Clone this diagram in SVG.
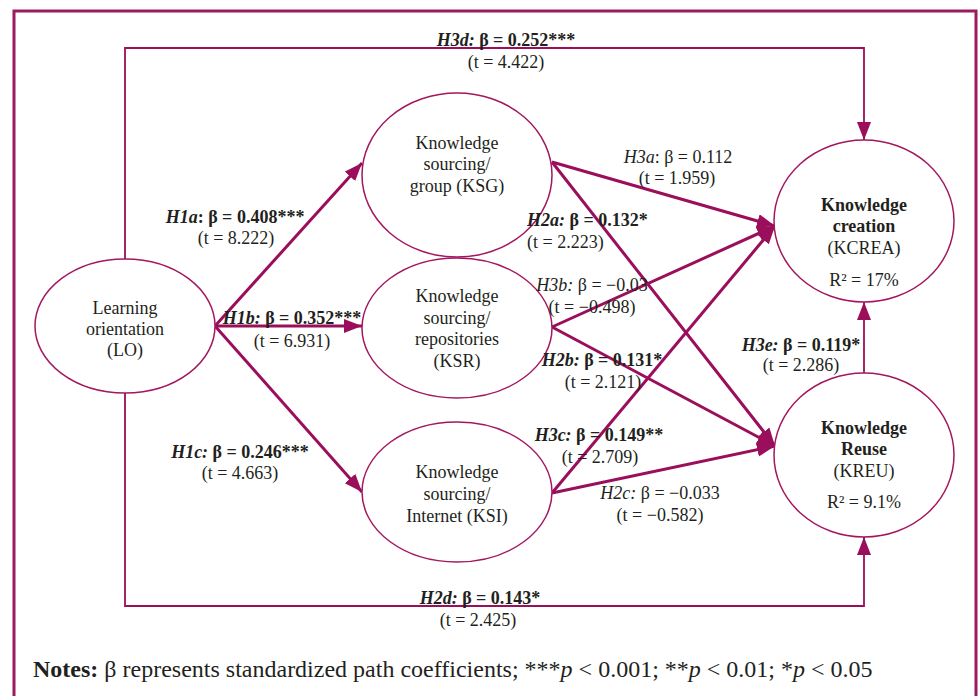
<svg xmlns="http://www.w3.org/2000/svg" width="979" height="696" viewBox="0 0 979 696">
<defs>
<marker id="ah" markerUnits="userSpaceOnUse" markerWidth="20" markerHeight="16" refX="18" refY="7" orient="auto" viewBox="0 0 20 16">
<path d="M0,0 L18,7 L0,14 z" fill="#9a0e5b"/>
</marker>
<style>
.t{font-family:"Liberation Serif","Times New Roman",serif;font-size:18px;fill:#231f20;text-anchor:middle}
.b{font-weight:bold}
.i{font-style:italic}
.node{fill:#fff;stroke:#a3175f;stroke-width:1.5}
.c{fill:none;stroke:#9a0e5b;stroke-width:3;marker-end:url(#ah)}
.r{fill:none;stroke:#9a0e5b;stroke-width:1.8;marker-end:url(#ah)}
</style>
</defs>
<rect x="0" y="0" width="979" height="696" fill="#fff"/>
<rect x="14" y="11" width="962" height="720" fill="none" stroke="#9b1b5f" stroke-width="3"/>
<g id="connectors">
<polyline class="r" points="125,260 125,48 864,48 864,140"/>
<polyline class="r" points="125,393 125,606 864,606 864,537"/>
<line class="r" x1="864" y1="374" x2="864" y2="302"/>
<line class="c" x1="215" y1="326" x2="362" y2="163"/>
<line class="c" x1="215" y1="326" x2="362" y2="326"/>
<line class="c" x1="215" y1="326" x2="362" y2="492"/>
<line class="c" x1="552" y1="162" x2="775" y2="226"/>
<line class="c" x1="552" y1="162" x2="775" y2="446"/>
<line class="c" x1="552" y1="327" x2="775" y2="226"/>
<line class="c" x1="552" y1="327" x2="775" y2="446"/>
<line class="c" x1="552" y1="493" x2="775" y2="226"/>
<line class="c" x1="552" y1="493" x2="775" y2="446"/>
</g>
<g id="LO">
<ellipse class="node" cx="125" cy="326" rx="90" ry="67"/>
<text class="t" x="125" y="314">Learning</text>
<text class="t" x="125" y="335">orientation</text>
<text class="t" x="125" y="356">(LO)</text>
</g>
<g id="KSG">
<ellipse class="node" cx="457" cy="175" rx="95" ry="82"/>
<text class="t" x="457" y="149">Knowledge</text>
<text class="t" x="457" y="170">sourcing/</text>
<text class="t" x="457" y="192">group (KSG)</text>
</g>
<g id="KSR">
<ellipse class="node" cx="457" cy="328" rx="95" ry="70"/>
<text class="t" x="457" y="302">Knowledge</text>
<text class="t" x="457" y="324">sourcing/</text>
<text class="t" x="457" y="345">repositories</text>
<text class="t" x="457" y="367">(KSR)</text>
</g>
<g id="KSI">
<ellipse class="node" cx="457" cy="492" rx="95" ry="70"/>
<text class="t" x="457" y="478">Knowledge</text>
<text class="t" x="457" y="500">sourcing/</text>
<text class="t" x="457" y="522">Internet (KSI)</text>
</g>
<g id="KCREA">
<ellipse class="node" cx="864" cy="221" rx="90" ry="81"/>
<text class="t b" x="864" y="211">Knowledge</text>
<text class="t b" x="864" y="232">creation</text>
<text class="t" x="864" y="254">(KCREA)</text>
<text class="t" x="864" y="286">R² = 17%</text>
</g>
<g id="KREU">
<ellipse class="node" cx="864" cy="455" rx="90" ry="82"/>
<text class="t b" x="864" y="434">Knowledge</text>
<text class="t b" x="864" y="455">Reuse</text>
<text class="t" x="864" y="477">(KREU)</text>
<text class="t" x="864" y="508">R² = 9.1%</text>
</g>
<g id="labels">
<text class="t b" x="506" y="46"><tspan class="i">H3d:</tspan> β = 0.252***</text>
<text class="t" x="506" y="68">(t = 4.422)</text>
<text class="t b" x="235" y="223"><tspan class="i">H1a</tspan>: β = 0.408***</text>
<text class="t" x="236" y="244">(t = 8.222)</text>
<text class="t b" x="292" y="324"><tspan class="i">H1b:</tspan> β = 0.352***</text>
<text class="t" x="292" y="347">(t = 6.931)</text>
<text class="t b" x="240" y="458"><tspan class="i">H1c:</tspan> β = 0.246***</text>
<text class="t" x="240" y="479">(t = 4.663)</text>
<text class="t" x="678" y="163"><tspan class="i">H3a</tspan>: β = 0.112</text>
<text class="t" x="677" y="184">(t = 1.959)</text>
<text class="t b" x="527" y="226" style="text-anchor:start"><tspan class="i">H2a:</tspan> β = 0.132*</text>
<text class="t" x="527" y="248" style="text-anchor:start">(t = 2.223)</text>
<text class="t" x="592" y="291"><tspan class="i">H3b:</tspan> β = −0.03</text>
<text class="t" x="592" y="313">(t = −0.498)</text>
<text class="t b" x="602" y="366"><tspan class="i">H2b:</tspan> β = 0.131*</text>
<text class="t" x="603" y="388">(t = 2.121)</text>
<text class="t b" x="599" y="441"><tspan class="i">H3c:</tspan> β = 0.149**</text>
<text class="t" x="600" y="463">(t = 2.709)</text>
<text class="t" x="660" y="499"><tspan class="i">H2c:</tspan> β = −0.033</text>
<text class="t" x="660" y="521">(t = −0.582)</text>
<text class="t b" x="801" y="351"><tspan class="i">H3e:</tspan> β = 0.119*</text>
<text class="t" x="801" y="371">(t = 2.286)</text>
<text class="t b" x="480" y="604"><tspan class="i">H2d:</tspan> β = 0.143*</text>
<text class="t" x="478" y="626">(t = 2.425)</text>
<text class="t" x="33" y="677" style="text-anchor:start;font-size:24px"><tspan class="b">Notes:</tspan> β represents standardized path coefficients; ***<tspan class="i">p</tspan> &lt; 0.001; **<tspan class="i">p</tspan> &lt; 0.01; *<tspan class="i">p</tspan> &lt; 0.05</text>
</g>
</svg>
